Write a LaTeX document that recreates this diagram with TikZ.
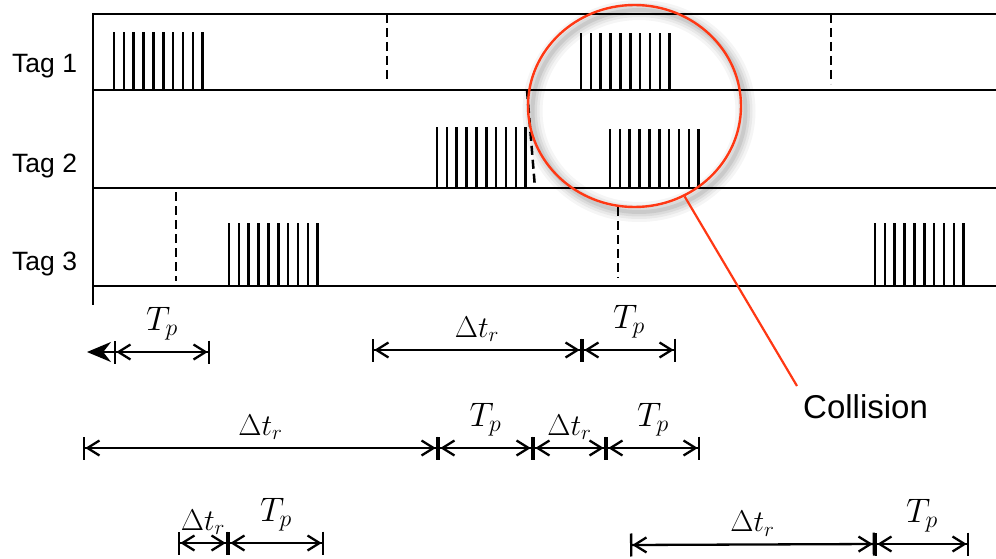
\documentclass[tikz,border=0pt]{standalone}
\usepackage{fix-cm}
\usepackage{fontspec}
\usepackage{tikz}
\usetikzlibrary{arrows.meta,shapes.geometric}
\newfontfamily\tagfont{Liberation Sans}
\definecolor{CollRed}{HTML}{FF3814}
\newcommand{\pulsetrain}[3]{%
  \foreach \k in {0,...,9}
    \draw[pulse] ({#1+9.85*\k},#2) -- ({#1+9.85*\k},#3);}
\tikzset{
  slot line/.style={line width=2.9pt},
  pulse/.style={line width=2.6pt},
  wait line/.style={line width=2.5pt,dash pattern=on 9pt off 5pt},
  dim line/.style={line width=2.3pt,
    {Bar[width=23pt]Straight Barb[length=12pt,width=15pt]}-{Straight Barb[length=12pt,width=15pt]Bar[width=23pt]}},
  tp label/.style={anchor=base,yshift=22pt,font=\fontsize{34}{36}\selectfont},
  dt label/.style={anchor=base,yshift=13pt,font=\fontsize{30}{32}\selectfont},
  tag label/.style={anchor=base west,inner sep=1pt,font=\tagfont\fontsize{26.5}{28}\selectfont},
}

\begin{document}
\begin{tikzpicture}[x=1pt,y=-1pt]
  \useasboundingbox (0,0) rectangle (996,559);

  % tag names
  \node[tag label] (tag1) at (11,73) {Tag 1};
  \node[tag label] (tag2) at (11,172) {Tag 2};
  \node[tag label] (tag3) at (11,270) {Tag 3};

  % time slots
  \draw[slot line] (93,14) -- (996,14);
  \draw[slot line] (93,90) -- (996,90);
  \draw[slot line] (93,188) -- (996,188);
  \draw[slot line] (93,286) -- (996,286);
  \draw[slot line] (93,13) -- (93,305);

  % replies
  \pulsetrain{114}{90}{32}
  \pulsetrain{581}{90}{33}
  \pulsetrain{437}{188}{127}
  \pulsetrain{610}{188}{129}
  \pulsetrain{229}{286}{223}
  \pulsetrain{875}{286}{223}

  % waiting points
  \draw[wait line] (387,14) -- (387,82);
  \draw[wait line] (831,14) -- (831,84);
  \draw[wait line] (527,90) -- (535,188);
  \draw[wait line] (176,192) -- (176,281);
  \draw[wait line] (618,207) -- (618,278);

  % collision zone
  \foreach \w/\o in {20/0.04,14/0.05,9/0.06,4/0.08}
    \draw[black,opacity=\o,line width=\w pt] (639,111) ellipse [x radius=106.5pt,y radius=101pt];
  \node[draw=CollRed,line width=2.4pt,ellipse,inner sep=0pt,
    minimum width=213pt,minimum height=202pt] (zone) at (634.5,106) {};
  \node[tag label,font=\tagfont\fontsize{33}{35}\selectfont] (coll) at (802,418) {Collision};
  \coordinate (callout) at (797,386);
  \draw[CollRed,line width=2.2pt] (zone.-61) -- (callout);

  % first row of intervals
  \coordinate (aL) at (87,352);
  \coordinate (a0) at (114,352);
  \coordinate (a1) at (210,352);
  \coordinate (b0) at (372,350);
  \coordinate (b1) at (582,350);
  \coordinate (b2) at (676,350);
  \draw[line width=2.3pt,-{Stealth[length=24pt,width=20pt]}] (a0) -- (aL);
  \draw[dim line] (a0) -- node[tp label] {$T_p$} (a1);
  \draw[dim line] (b0) -- node[dt label] {$\Delta t_r$} (b1);
  \draw[dim line] (b1) -- node[tp label] {$T_p$} (b2);

  % second row
  \coordinate (c0) at (83,448);
  \coordinate (c1) at (438,448);
  \coordinate (c2) at (533,448);
  \coordinate (c3) at (606,448);
  \coordinate (c4) at (700,448);
  \draw[dim line] (c0) -- node[dt label] {$\Delta t_r$} (c1);
  \draw[dim line] (c1) -- node[tp label] {$T_p$} (c2);
  \draw[dim line] (c2) -- node[dt label] {$\Delta t_r$} (c3);
  \draw[dim line] (c3) -- node[tp label] {$T_p$} (c4);

  % third row
  \coordinate (d0) at (178,543);
  \coordinate (d1) at (228,543);
  \coordinate (d2) at (324,543);
  \coordinate (e0) at (630,545);
  \coordinate (e1) at (875,544);
  \coordinate (e2) at (969,544);
  \draw[dim line] (d0) -- node[dt label] {$\Delta t_r$} (d1);
  \draw[dim line] (d1) -- node[tp label] {$T_p$} (d2);
  \draw[dim line] (e0) -- node[dt label] {$\Delta t_r$} (e1);
  \draw[dim line] (e1) -- node[tp label] {$T_p$} (e2);
\end{tikzpicture}
\end{document}
